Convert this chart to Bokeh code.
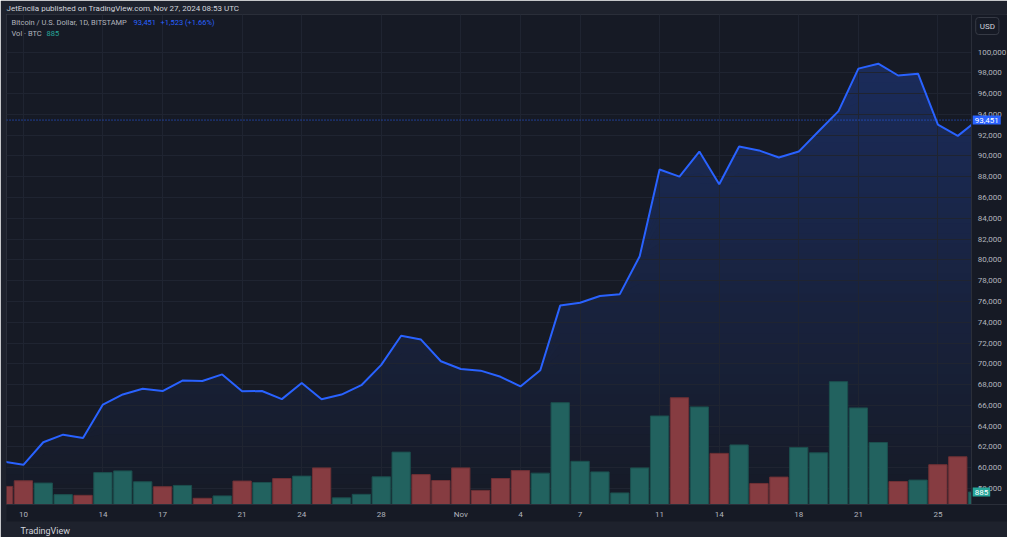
import numpy as np
import pandas as pd
from bokeh.plotting import figure
from bokeh.models import (Range1d, FixedTicker, NumeralTickFormatter, Label,
                          Title, ColumnDataSource)
from bokeh.embed import file_html
from bokeh.resources import INLINE

# ---------------- data ----------------
dates = pd.date_range("2024-10-09", "2024-11-27", freq="D")

closes = [60600, 60280, 62450, 63180, 62850, 66080, 67050, 67600, 67380, 68380,
          68350, 68980, 67350, 67380, 66600, 68150, 66580, 67040, 67940, 69900,
          72700, 72330, 70240,
          69500, 69340, 68750, 67820, 69380, 75600, 75880, 76520, 76700, 80350,
          88700, 88010, 90420, 87280, 90900, 90530, 89850, 90420, 92380, 94310,
          98400, 98880, 97740, 97920, 93020, 91928, 93451]

volumes = [1280, 1680, 1520, 700, 650, 2260, 2380, 1610, 1260, 1350,
           440, 610, 1660, 1560, 1840, 2010, 2590, 470, 720, 1960,
           3710, 2120, 1700,
           2590, 1000, 1840, 2400, 2220, 7210, 3060, 2310, 820, 2590,
           6270, 7560, 6910, 3620, 4220, 1490, 1940, 4040, 3660, 8700,
           6840, 4390, 1630, 1730, 2820, 3380, 885]

direction = ["down", "down", "up", "up", "down", "up", "up", "up", "down", "up",
             "down", "up", "down", "up", "down", "up", "down", "up", "up", "up",
             "up", "down", "down",
             "down", "down", "down", "down", "up", "up", "up", "up", "up", "up",
             "up", "down", "up", "down", "up", "down", "down", "up", "up", "up",
             "up", "up", "down", "up", "down", "down", "up"]

tick_days = ["2024-10-10", "2024-10-14", "2024-10-17", "2024-10-21", "2024-10-24",
             "2024-10-28", "2024-11-01", "2024-11-04", "2024-11-07", "2024-11-11",
             "2024-11-14", "2024-11-18", "2024-11-21", "2024-11-25"]
tick_text = ["10", "14", "17", "21", "24", "28", "Nov", "4", "7", "11", "14", "18", "21", "25"]

price_ticks = list(range(58000, 100001, 2000))

# ---------------- styling ----------------
BG = "#161a25"
FRAME = "#1e222d"
GRID = "#1f2431"
SEP = "#2a2e39"
TXT = "#b2b5be"
BLUE = "#2962ff"
TEAL = "#26a69a"
FONT = "Roboto"

x = np.arange(len(dates))
closes_a = np.array(closes, dtype=float)
day_index = {d.strftime("%Y-%m-%d"): i for i, d in enumerate(dates)}
tick_pos = [day_index[d] for d in tick_days]

x_start, axis_x, x_end = 0.15, 48.7, 50.5
y_lo, y_hi = 56460, 103610

p = figure(width=1007, height=537, x_range=Range1d(x_start, x_end), y_range=Range1d(y_lo, y_hi),
           output_backend="svg", toolbar_location=None, y_axis_location="right",
           background_fill_color=BG, border_fill_color=FRAME,
           min_border_left=6, min_border_right=0, min_border_top=0, min_border_bottom=0,
           outline_line_color=SEP)
p.extra_y_ranges = {"vol": Range1d(0, 34700)}

# header
p.title.text = "JetEncila published on TradingView.com, Nov 27, 2024 08:53 UTC"
p.title.text_font = FONT
p.title.text_font_size = "8px"
p.title.text_font_style = "normal"
p.title.text_color = "#d1d4dc"
p.title.align = "left"
p.title.offset = 0
p.title.standoff = 3
p.title.background_fill_color = FRAME

# grids
p.xgrid.ticker = FixedTicker(ticks=tick_pos)
p.ygrid.ticker = FixedTicker(ticks=price_ticks)
p.xgrid.grid_line_color = GRID
p.ygrid.grid_line_color = GRID


def blend(a):
    bg = np.array([22, 26, 37], dtype=float)
    fg = np.array([41, 98, 255], dtype=float)
    c = np.round(bg + a * (fg - bg)).astype(int)
    return "#%02x%02x%02x" % tuple(c)


# gradient area fill: opaque stacked layers drawn beneath the grid
levels = np.linspace(y_lo, 99000, 45)
xs, ys, cols = [], [], []
for lv in levels:
    A = 0.005 + (lv - y_lo) / (99000 - y_lo) * (0.25 - 0.005)
    bottom = np.minimum(closes_a, lv)
    xs.append(list(x) + list(x[::-1]))
    ys.append(list(closes_a) + list(bottom[::-1]))
    cols.append(blend(A))
fill_r = p.patches(xs=xs, ys=ys, fill_color=cols, line_color=None)
fill_r.level = "image"

# volume bars
fill_map = {"up": "#22625f", "down": "#863c41"}
line_map = {"up": "#1b4e4d", "down": "#6e3035"}
vsrc = ColumnDataSource(dict(x=x, top=volumes,
                             fill=[fill_map[d] for d in direction],
                             line=[line_map[d] for d in direction]))
p.vbar(x="x", top="top", bottom=0, width=0.92, source=vsrc, y_range_name="vol",
       fill_color="fill", line_color="line", line_width=1)

# price line
p.line(x, closes_a, line_color=BLUE, line_width=2)

# last price dotted line
p.segment(x0=[x_start], x1=[axis_x], y0=[closes[-1]], y1=[closes[-1]],
          line_color=BLUE, line_dash="1 2", line_width=1)

# price-scale strip background (covers the chart beyond the scale line)
p.quad(left=[axis_x], right=[x_end], bottom=[y_lo], top=[y_hi],
       fill_color=BG, line_color=None)

# price axis drawn at the scale line
ya = p.yaxis[0]
ya.fixed_location = axis_x
ya.ticker = FixedTicker(ticks=price_ticks)
ya.formatter = NumeralTickFormatter(format="0,0")
ya.major_label_text_font = FONT
ya.major_label_text_font_size = "8px"
ya.major_label_text_color = TXT
ya.axis_line_color = SEP
ya.major_tick_line_color = None
ya.minor_tick_line_color = None
ya.major_tick_out = 0
ya.minor_tick_out = 0
ya.major_label_standoff = 6

xa = p.xaxis[0]
xa.ticker = FixedTicker(ticks=tick_pos)
xa.major_label_overrides = {pos: t for pos, t in zip(tick_pos, tick_text)}
xa.major_label_text_font = FONT
xa.major_label_text_font_size = "8px"
xa.major_label_text_color = TXT
xa.axis_line_color = SEP
xa.major_tick_line_color = None
xa.minor_tick_line_color = None
xa.major_tick_out = 0
xa.minor_tick_out = 0
xa.major_label_standoff = 5
xa.background_fill_color = BG

# footer
p.add_layout(Title(text="TradingView", text_font=FONT, text_font_size="9px",
                   text_font_style="normal", text_color="#d1d4dc", align="left",
                   offset=14, standoff=4, background_fill_color=FRAME), "below")

# legend texts (top-left)
chg = closes[-1] - closes[-2]
pct = chg / closes[-2] * 100
common = dict(x=x_start, y=y_hi, text_font=FONT, text_font_size="7.5px",
              text_baseline="middle", text_align="left")
p.add_layout(Label(text="Bitcoin / U.S. Dollar, 1D, BITSTAMP", text_color=TXT,
                   x_offset=5, y_offset=-8, **common))
p.add_layout(Label(text=f"{closes[-1]:,}", text_color=BLUE,
                   x_offset=127, y_offset=-8, **common))
p.add_layout(Label(text=f"+{chg:,} (+{pct:.2f}%)", text_color=BLUE,
                   x_offset=154, y_offset=-8, **common))
p.add_layout(Label(text="Vol · BTC", text_color=TXT, x_offset=5, y_offset=-19, **common))
p.add_layout(Label(text=f"{volumes[-1]:,}", text_color=TEAL,
                   x_offset=40, y_offset=-19, **common))

# price / volume markers on the price scale
p.add_layout(Label(x=axis_x, y=closes[-1], text=f"{closes[-1]:,}",
                   text_font=FONT, text_font_size="8px", text_color="white",
                   text_baseline="middle", text_align="left", x_offset=1,
                   background_fill_color=BLUE, padding=2))
p.add_layout(Label(x=axis_x, y=volumes[-1], y_range_name="vol", text=f"{volumes[-1]:,}",
                   text_font=FONT, text_font_size="8px", text_color="white",
                   text_baseline="middle", text_align="left", x_offset=1,
                   background_fill_color=TEAL, padding=2))
p.add_layout(Label(x=axis_x, y=y_hi, text="USD",
                   text_font=FONT, text_font_size="8px", text_color="#d1d4dc",
                   text_baseline="top", text_align="left", x_offset=4, y_offset=-3,
                   background_fill_color=BG, border_line_color="#363a45",
                   border_radius=3, padding=4))

open("out.html", "w").write(file_html(p, INLINE))
